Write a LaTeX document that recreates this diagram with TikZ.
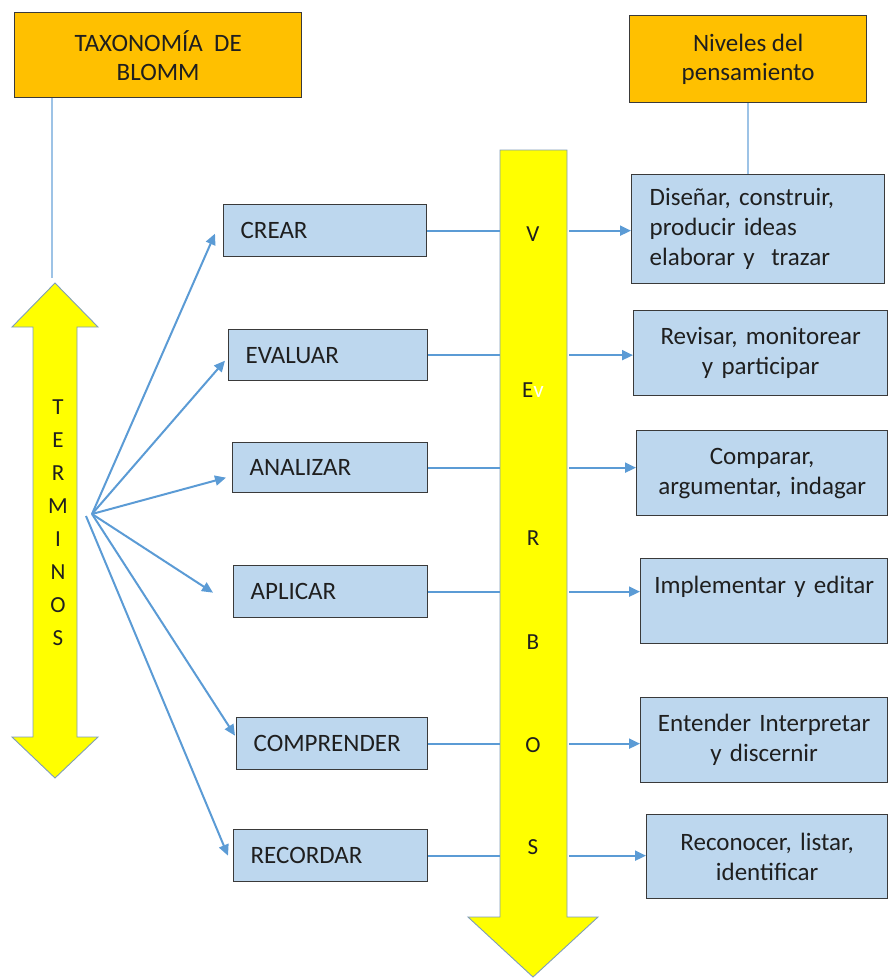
\documentclass[tikz,border=0pt]{standalone}
\usepackage{fontspec}
\setmainfont{Carlito}
\usetikzlibrary{arrows.meta}
\definecolor{orng}{HTML}{FFC000}
\definecolor{lblue}{HTML}{BDD7EE}
\definecolor{lnblue}{HTML}{5B9BD5}
\definecolor{hdline}{HTML}{9DC3E6}
\definecolor{bord}{HTML}{3A3A3A}
\definecolor{ylw}{HTML}{FFFF00}
\definecolor{ybord}{HTML}{7F9DB9}
\begin{document}
\begin{tikzpicture}[x=1pt,y=-1pt,
  txt/.style={font=\fontsize{25}{30}\selectfont, text=black!88},
  hdbox/.style={txt, draw=bord, fill=orng, line width=1.3pt, anchor=north west,
     inner sep=0pt, align=center, font=\fontsize{25}{29}\selectfont},
  midbox/.style={txt, draw=bord, fill=lblue, line width=1.3pt, anchor=north west,
     inner xsep=17pt, inner ysep=0pt, align=left},
  rbox/.style={txt, draw=bord, fill=lblue, line width=1.3pt, anchor=north west,
     inner xsep=8pt, inner ysep=0pt, align=center},
  arr/.style={draw=lnblue, line width=2pt, -{Triangle[length=11pt,width=10pt]}},
  link/.style={draw=lnblue, line width=1.8pt},
  hlink/.style={draw=hdline, line width=1.8pt},
  bigarrow/.style={fill=ylw, draw=ybord, line width=0.9pt},
  letter/.style={font=\fontsize{23}{33}\selectfont, text=black!88, align=center}
]
\useasboundingbox (0,0) rectangle (888,978);

% header boxes
\node[hdbox, minimum width=287pt, minimum height=85pt] (h1) at (14,12) {TAXONOMÍA\ \ DE\\BLOMM};
\node[hdbox, minimum width=237pt, minimum height=87pt] (h2) at (629,15) {Niveles del\\pensamiento};

% TERMINOS double arrow
\path[bigarrow] (55,283) -- (98,327) -- (77,327) -- (77,737) -- (98,737) -- (55,778)
   -- (12,737) -- (33,737) -- (33,327) -- (12,327) -- cycle;
\node[letter] (terminos) at (58,523) {T\\E\\R\\M\\I\\N\\O\\S};
\coordinate (ttip) at (52,278);
\draw[hlink] ([xshift=38pt]h1.south west) -- (ttip);

% VERBOS arrow
\path[bigarrow] (500,150) -- (567,150) -- (567,917) -- (598,917) -- (533,977)
   -- (468,917) -- (500,917) -- cycle;
\coordinate (vL) at (500,150);
\coordinate (vR) at (569,150);
\node[letter] (vV) at (533,234) {V};
\node[letter] (vE) at (533,390) {E{\color{white}v}};
\node[letter] (vR1) at (533,538) {R};
\node[letter] (vB) at (533,642) {B};
\node[letter] (vO) at (533,745) {O};
\node[letter] (vS) at (533,847) {S};

% middle boxes
\node[midbox, text width=169pt, minimum height=52pt] (crear) at (223,204) {CREAR};
\node[midbox, text width=165pt, minimum height=51pt] (evaluar) at (228,329) {EVALUAR};
\node[midbox, text width=161pt, minimum height=50pt] (analizar) at (232,442) {ANALIZAR};
\node[midbox, text width=160pt, minimum height=52pt] (aplicar) at (233,565) {APLICAR};
\node[midbox, text width=157pt, minimum height=52pt] (comprender) at (236,717) {COMPRENDER};
\node[midbox, text width=160pt, minimum height=52pt] (recordar) at (233,829) {RECORDAR};

% right boxes
\node[rbox, align=left, inner xsep=18pt, text width=217pt, minimum height=109pt] (d1) at (631,174)
   {Diseñar, construir,\\producir ideas\\elaborar y\ \ trazar};
\node[rbox, text width=238pt, minimum height=85pt] (d2) at (633,310) {Revisar, monitorear\\y participar};
\node[rbox, text width=235pt, minimum height=85pt] (d3) at (636,430) {Comparar,\\argumentar, indagar};
\node[rbox, text width=231pt, minimum height=85pt] (d4) at (640,558) {Implementar y editar\\[-2pt]\phantom{y}};
\node[rbox, text width=231pt, minimum height=85pt] (d5) at (640,697) {Entender Interpretar\\y discernir};
\node[rbox, text width=225pt, minimum height=84pt] (d6) at (646,814) {Reconocer, listar,\\identificar};

\draw[hlink] (h2.south) -- (h2.south |- d1.north);

% fan from TERMINOS
\coordinate (fan) at (92,514);
\coordinate (fanb) at (86,516);
\draw[arr] (fan) -- ([xshift=-8pt,yshift=-3pt]crear.west);
\draw[arr] (fan) -- ([xshift=-3pt,yshift=-5.5pt]evaluar.west);
\draw[arr] (fan) -- ([xshift=-6pt,yshift=-10pt]analizar.west);
\draw[arr] (fan) -- ([xshift=-20pt,yshift=-1pt]aplicar.west);
\draw[arr] (fan) -- ([xshift=-1pt,yshift=8pt]comprender.west);
\draw[arr] (fanb) -- ([xshift=-5pt]recordar.west);

% links to VERBOS and arrows to right boxes
\foreach \m/\d in {crear/d1, evaluar/d2, analizar/d3, aplicar/d4, comprender/d5, recordar/d6}{
  \draw[link] (\m.east) -- (\m.east -| vL);
  \draw[arr] (\m.east -| vR) -- (\m.east -| \d.west);
}
\end{tikzpicture}
\end{document}
